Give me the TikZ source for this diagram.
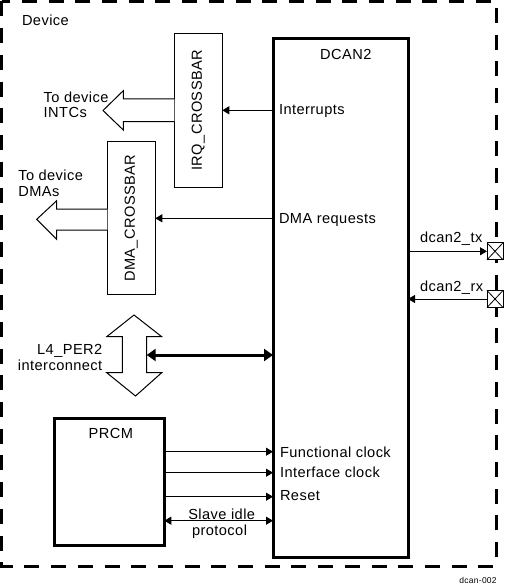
\documentclass[tikz,border=0pt]{standalone}
\usepackage{fontspec}
\setmainfont{Liberation Sans}[LetterSpace=3]
\usetikzlibrary{arrows.meta}
\begin{document}
\begin{tikzpicture}[x=1pt,y=-1pt,
  every node/.style={font=\fontsize{14.6}{15.7}\selectfont, inner sep=0pt, outer sep=0pt},
  txt/.style={anchor=base west},
  txtc/.style={anchor=base},
  txte/.style={anchor=base east},
  thinbox/.style={draw, line width=1pt, fill=white},
  thickbox/.style={draw, line width=3pt},
  sig/.style={line width=1pt, -{Triangle[length=7pt,width=8pt]}},
  bisig/.style={line width=1pt, {Triangle[length=7pt,width=8pt]}-{Triangle[length=7pt,width=8pt]}},
  bus/.style={line width=3pt, {Triangle[length=9pt,width=12pt]}-{Triangle[length=9pt,width=12pt]}},
  hollow/.style={draw, line width=1pt, fill=white, line join=miter},
  border/.style={draw, line width=3pt, dash pattern=on 15pt off 11.7pt},
  pad/.style={draw, line width=1pt, fill=white, minimum width=16pt, minimum height=17pt}
]
\useasboundingbox (0,0) rectangle (504,585);

% device border
\draw[border] (1.5,1.5) rectangle (496,566);
\node[txt] (device) at (22,25.3) {Device};

% DCAN2
\node[thickbox, minimum width=135pt, minimum height=518pt] (dcan) at (340.5,298) {};
\node[txtc] (dcanlbl) at (345.8,60) {DCAN2};
\node[txt] (intr) at (279,115) {Interrupts};
\node[txt] (dmar) at (279,223.5) {DMA requests};
\node[txt] (fclk) at (280,457.3) {Functional clock};
\node[txt] (iclk) at (280,477.3) {Interface clock};
\node[txt] (rst) at (280,500.7) {Reset};

% IRQ crossbar
\node[thinbox, minimum width=48pt, minimum height=154pt] (irq) at (198.3,110.3) {};
\node[rotate=90] (irqlbl) at (irq.center) {IRQ\_CROSSBAR};
% DMA crossbar
\node[thinbox, minimum width=48pt, minimum height=153.3pt] (dma) at (131.3,218.3) {};
\node[rotate=90] (dmalbl) at (dma.center) {DMA\_CROSSBAR};

\draw[sig] (dcan.west |- irq.center) -- (irq.east |- irq.center);
\draw[sig] (dcan.west |- 0,218.3) -- (dma.east |- 0,218.3);

% hollow arrows
\draw[hollow] (irq.west |- 0,99) -- (123.3,99) -- (123.3,90.7) -- (103,110.5) -- (123.3,130) -- (123.3,121.7) -- (irq.west |- 0,121.7);
\node[txt] (intcA) at (43.7,102.3) {To device};
\node[txt] (intcB) at (43.7,118) {INTCs};

\draw[hollow] (dma.west |- 0,209) -- (56.7,209) -- (56.7,200.7) -- (36.7,219.3) -- (56.7,239.3) -- (56.7,230) -- (dma.west |- 0,230);
\node[txt] (dmasA) at (18.3,181) {To device};
\node[txt] (dmasB) at (18.3,196.7) {DMAs};

% L4 interconnect
\draw[hollow] (122.3,336.7) -- (106.7,336.7) -- (134,315) -- (161.7,336.7) -- (146.7,336.7) -- (146.7,372.7) -- (161.7,372.7) -- (135.5,396) -- (106.7,372.7) -- (122.3,372.7) -- cycle;
\coordinate (l4) at (146.7,355);
\node[txte] (l4A) at (102.3,354) {L4\_PER2};
\node[txte] (l4B) at (102.3,370) {interconnect};
\draw[bus] (l4) -- (dcan.west |- l4);

% pads
\node[pad] (tx) at (495,251.3) {};
\draw[line width=0.8pt] (tx.north west) -- (tx.south east) (tx.north east) -- (tx.south west);
\node[pad] (rx) at (495,299) {};
\draw[line width=0.8pt] (rx.north west) -- (rx.south east) (rx.north east) -- (rx.south west);
\draw[sig] (dcan.east |- tx.center) -- (tx.west);
\draw[sig] (rx.west) -- (dcan.east |- rx.center);
\node[txt] (txlbl) at (420,242.7) {dcan2\_tx};
\node[txt] (rxlbl) at (420,291.7) {dcan2\_rx};

% PRCM
\node[thickbox, minimum width=110pt, minimum height=126.7pt] (prcm) at (109.3,482.3) {};
\node[txtc] (prcmlbl) at (110.8,438.3) {PRCM};
\draw[sig] (prcm.east |- 0,451.7) -- (dcan.west |- 0,451.7);
\draw[sig] (prcm.east |- 0,472.7) -- (dcan.west |- 0,472.7);
\draw[sig] (prcm.east |- 0,496.7) -- (dcan.west |- 0,496.7);
\draw[bisig] (prcm.east |- 0,520.7) -- (dcan.west |- 0,520.7);
\node[txtc] (siA) at (221.7,519.5) {Slave idle};
\node[txtc] (siB) at (219.5,535) {protocol};

\node[anchor=base east, font=\fontsize{8.5}{10}\selectfont] (fig) at (496.7,583.5) {dcan-002};
\end{tikzpicture}
\end{document}
